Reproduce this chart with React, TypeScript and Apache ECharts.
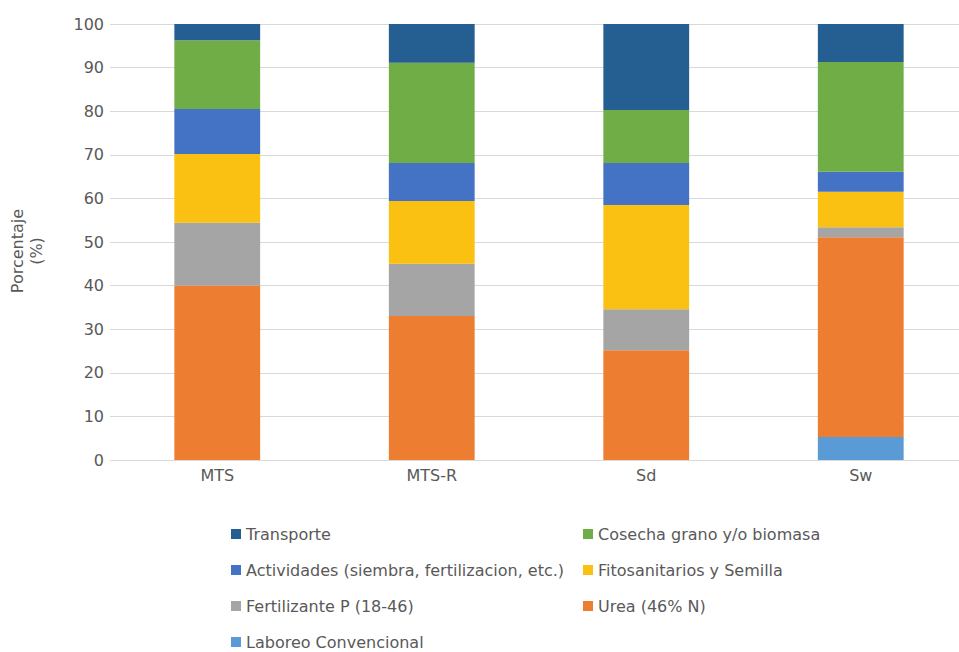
import React, { useEffect, useRef } from "react";
import * as echarts from "echarts";

const categories = ["MTS", "MTS-R", "Sd", "Sw"];
const laboreo = [0, 0, 0, 5.3];
const urea = [40, 33, 25.2, 45.8];
const fertP = [14.4, 12, 9.4, 2.3];
const fito = [15.8, 14.4, 23.9, 8.1];
const actividades = [10.3, 8.7, 9.6, 4.6];
const cosecha = [15.8, 23, 12.2, 25.2];
const transporte = [3.7, 8.9, 19.7, 8.7];

const yTicks = [0, 10, 20, 30, 40, 50, 60, 70, 80, 90, 100];

const names = {
  laboreo: "Laboreo Convencional",
  urea: "Urea (46% N)",
  fertP: "Fertilizante P (18-46)",
  fito: "Fitosanitarios y Semilla",
  act: "Actividades (siembra, fertilizacion, etc.)",
  cosecha: "Cosecha grano y/o biomasa",
  transp: "Transporte",
};

const FONT = "DejaVu Sans";
const TXT = "#595959";

export default function App() {
  const ref = useRef<HTMLDivElement>(null);
  useEffect(() => {
    const chart = echarts.init(ref.current!, null, { renderer: "svg" });
    const mk = (name: string, data: number[], color: string) => ({
      name,
      type: "bar",
      stack: "total",
      data,
      barWidth: "40%",
      itemStyle: { color },
      emphasis: { disabled: true },
    });
    const legendBase = {
      orient: "vertical",
      top: 526,
      height: 140,
      padding: 0,
      itemWidth: 10,
      itemHeight: 10,
      itemGap: 20,
      icon: "rect",
      textStyle: { color: TXT, fontSize: 16, fontFamily: FONT },
    };
    chart.setOption({
      animation: false,
      textStyle: { fontFamily: FONT },
      grid: { left: 110, right: -9, top: 24, bottom: 192, outerBoundsMode: "none" },
      xAxis: {
        type: "category",
        data: categories,
        axisLine: { lineStyle: { color: "#d9d9d9" } },
        axisTick: { show: false },
        axisLabel: { color: TXT, fontSize: 16, fontFamily: FONT, margin: 7 },
      },
      yAxis: {
        type: "value",
        min: 0,
        max: 100,
        interval: 10,
        name: "Porcentaje\n(%)",
        nameLocation: "middle",
        nameGap: 64,
        nameRotate: 90,
        nameTextStyle: {
          color: TXT,
          fontSize: 16,
          fontFamily: FONT,
          lineHeight: 19,
          padding: [0, 18, 0, 0],
        },
        axisLine: { show: false },
        axisTick: { show: false },
        axisLabel: {
          color: TXT,
          fontSize: 16,
          fontFamily: FONT,
          margin: 6,
          formatter: (v: number) => (yTicks.includes(v) ? String(v) : ""),
        },
        splitLine: { lineStyle: { color: "#d9d9d9" } },
      },
      legend: [
        {
          ...legendBase,
          left: 231,
          data: [names.transp, names.act, names.fertP, names.laboreo],
        },
        {
          ...legendBase,
          left: 583,
          data: [names.cosecha, names.fito, names.urea],
        },
      ],
      series: [
        mk(names.laboreo, laboreo, "#5B9BD5"),
        mk(names.urea, urea, "#ED7D31"),
        mk(names.fertP, fertP, "#A5A5A5"),
        mk(names.fito, fito, "#FBC112"),
        mk(names.act, actividades, "#4472C4"),
        mk(names.cosecha, cosecha, "#70AD47"),
        mk(names.transp, transporte, "#255E91"),
      ],
    });
    return () => chart.dispose();
  }, []);
  return (
    <div
      ref={ref}
      style={{ position: "absolute", left: 0, top: 0, width: 959, height: 652 }}
    />
  );
}
